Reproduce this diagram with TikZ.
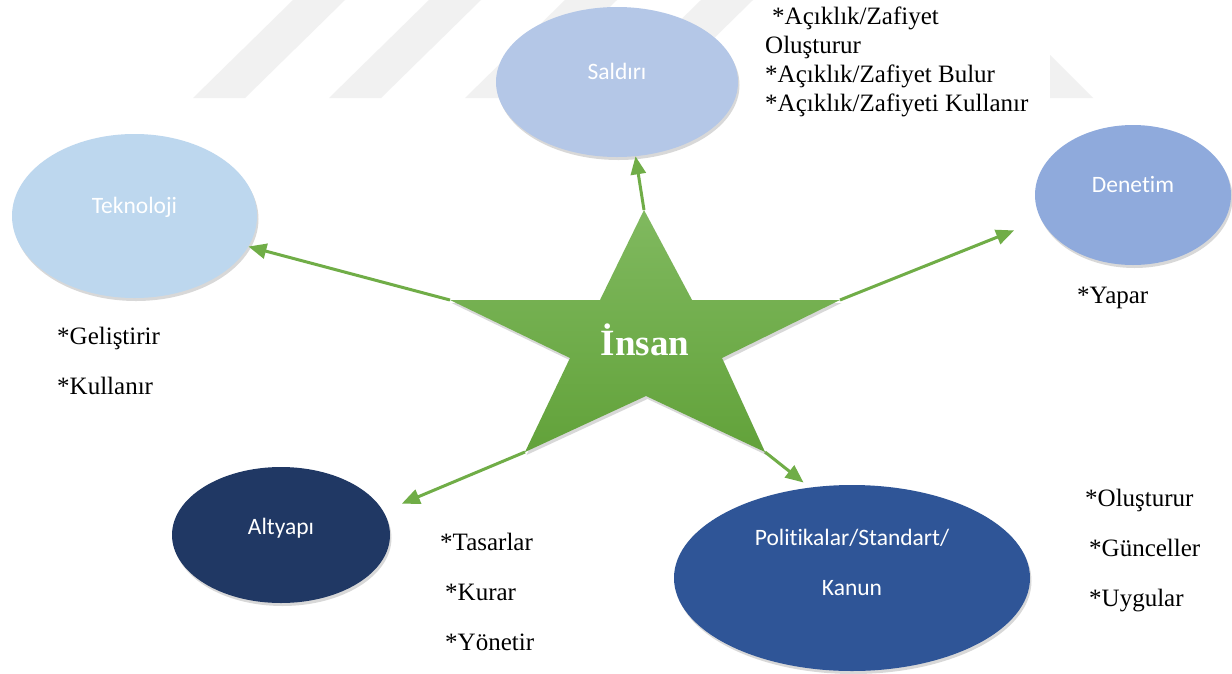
\documentclass[tikz,border=0pt]{standalone}
\usepackage{fontspec}
\setmainfont{Liberation Serif}
\newfontfamily\boxfont{Carlito}[Ligatures=NoCommon]
\usetikzlibrary{shapes.geometric,arrows.meta,shadows}

\definecolor{salCol}{HTML}{B4C7E7}
\definecolor{tekCol}{HTML}{BDD7EE}
\definecolor{denCol}{HTML}{8FAADC}
\definecolor{altCol}{HTML}{203864}
\definecolor{polCol}{HTML}{2F5597}
\definecolor{starTop}{HTML}{80B95F}
\definecolor{starBot}{HTML}{62A23A}
\definecolor{arrowCol}{HTML}{70AD47}
\definecolor{wmGray}{HTML}{F1F1F1}

\newcommand{\liftlbl}[2]{\smash{\raisebox{#1}{#2}}}

\begin{document}
\begin{tikzpicture}[x=1pt,y=-1pt,
  blob/.style={ellipse, inner sep=0pt, text=white,
    font=\boxfont\fontsize{23.5}{28}\selectfont,
    drop shadow={shadow xshift=1.5pt, shadow yshift=-3pt, opacity=0.3}},
  note/.style={anchor=west, align=left, inner sep=0pt, font=\fontsize{25}{50}\selectfont},
  link/.style={-{Triangle[length=18pt,width=15pt]}, line width=3pt, draw=arrowCol}]
\fill[white] (0,0) rectangle (1232,673);
\useasboundingbox (0,0) rectangle (1232,673);

% watermark stripes
\foreach \k in {0,...,3}
  \fill[wmGray] (193+136*\k,98) -- (245+136*\k,98) -- (345+136*\k,0) -- (293+136*\k,0) -- cycle;
\fill[wmGray] (1050,55) -- (1093,98) -- (1050,98) -- cycle;

% star corners
\coordinate (sTop) at (644,210);
\coordinate (inUR) at (692,300);
\coordinate (sRight) at (840,300);
\coordinate (inR) at (722,358);
\coordinate (sBR) at (765,452);
\coordinate (inB) at (646,396);
\coordinate (sBL) at (525,452);
\coordinate (inL) at (570,358);
\coordinate (sLeft) at (450,300);
\coordinate (inUL) at (600,300);

% ellipses
\node[blob, fill=salCol, minimum width=242pt, minimum height=150pt] (saldiri) at (617,82) {\liftlbl{2.5pt}{Saldırı}};
\node[blob, fill=tekCol, minimum width=245pt, minimum height=164pt] (teknoloji) at (134.5,216) {\liftlbl{2.5pt}{Teknoloji}};
\node[blob, fill=denCol, minimum width=196pt, minimum height=140pt] (denetim) at (1133,195) {\liftlbl{2.5pt}{Denetim}};
\node[blob, fill=altCol, minimum width=218pt, minimum height=136pt] (altyapi) at (281,535) {\liftlbl{0.5pt}{Altyapı}};
\node[blob, fill=polCol, minimum width=356pt, minimum height=186pt] (polit) at (852,578)
  {\liftlbl{7pt}{\begin{tabular}{@{}c@{}}Politikalar/Standart/\\[22pt]Kanun\end{tabular}}};

% arrows
\draw[link] (sTop) -- (saldiri.284);
\draw[link] (sLeft) -- (teknoloji.345);
\draw[link, shorten >=29pt] (sRight) -- (denetim.195);
\draw[link, shorten >=20pt] (sBL) -- (altyapi.13);
\draw[link, shorten >=8pt] (sBR) -- (polit.115);

% star
\path[top color=starTop, bottom color=starBot,
  drop shadow={shadow xshift=1.5pt, shadow yshift=-3pt, opacity=0.3}]
  (sTop) -- (inUR) -- (sRight) -- (inR) -- (sBR) -- (inB) -- (sBL) -- (inL) -- (sLeft) -- (inUL) -- cycle;
\node[text=white, font=\bfseries\fontsize{37}{40}\selectfont] (insan) at (645,340) {İnsan};

% notes
\node[note, font=\fontsize{25}{29}\selectfont] (salNotes) at (765,61.5)
  {\hspace*{7pt}*Açıklık/Zafiyet\\Oluşturur\\*Açıklık/Zafiyet Bulur\\*Açıklık/Zafiyeti Kullanır};
\node[note] (tekNotes) at (57,360.5) {*Geliştirir\\*Kullanır};
\node[note] (denNotes) at (1077,298) {*Yapar};
\node[note] (altNotes) at (440,592) {*Tasarlar\\\hspace*{5pt}*Kurar\\\hspace*{5pt}*Yönetir};
\node[note] (polNotes) at (1085,551) {*Oluşturur\\\hspace*{4pt}*Günceller\\\hspace*{4pt}*Uygular};
\end{tikzpicture}
\end{document}
